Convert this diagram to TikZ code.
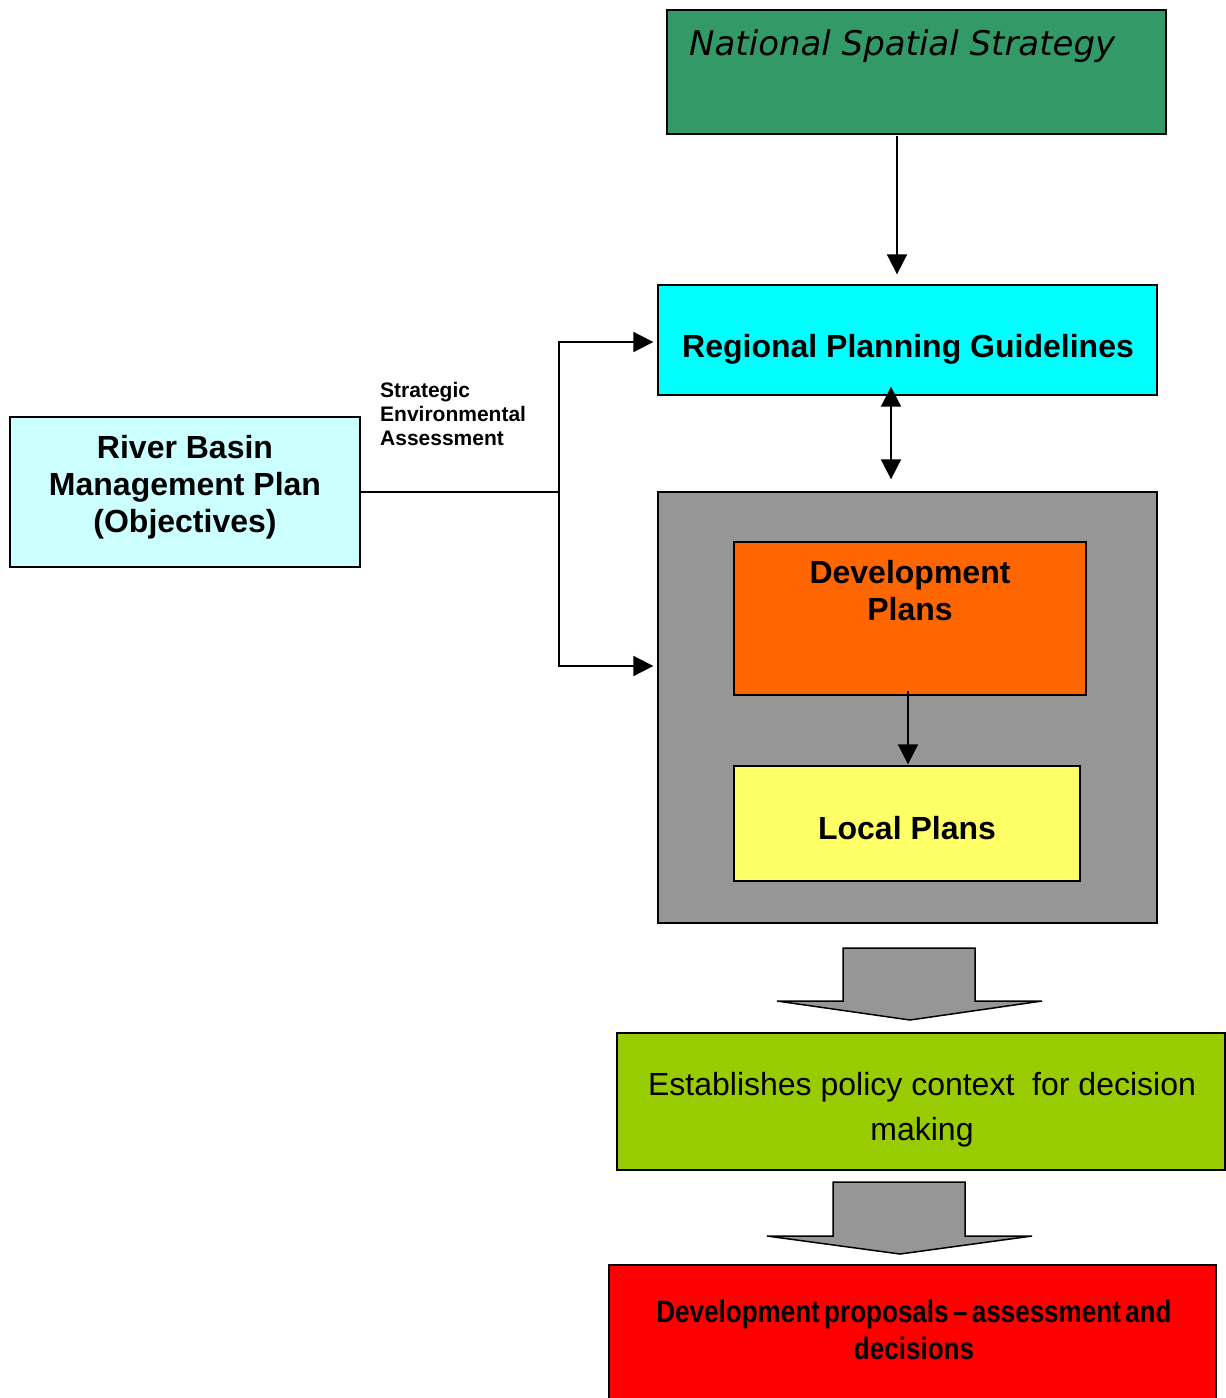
\documentclass[tikz,border=0pt]{standalone}
\usepackage{fontspec}
\setmainfont{Liberation Sans}
\newfontfamily\verd{DejaVu Sans}
\newfontfamily\narrowfont[FakeStretch=0.84,WordSpace=0.6]{Liberation Sans}
\usetikzlibrary{arrows.meta}
\definecolor{nssc}{HTML}{339966}
\definecolor{rpgc}{HTML}{00FFFF}
\definecolor{grayc}{HTML}{969696}
\definecolor{dpc}{HTML}{FF6600}
\definecolor{lpc}{HTML}{FFFF66}
\definecolor{rbc}{HTML}{CCFFFF}
\definecolor{greenc}{HTML}{99CC00}
\definecolor{redc}{HTML}{FF0000}
\tikzset{
  box/.style={draw=black, line width=1.3pt, inner sep=0pt, rectangle},
  conn/.style={draw=black, line width=1.8pt},
  arr/.style={conn, -{Triangle[length=20pt,width=20pt]}},
  darr/.style={conn, {Triangle[length=20pt,width=20pt]}-{Triangle[length=20pt,width=20pt]}},
  big/.style={font=\bfseries\fontsize{32}{37}\selectfont, align=center, inner sep=0pt},
  blockarrow/.style={draw=black, line width=1.5pt, fill=grayc, line join=miter},
}
\begin{document}
\begin{tikzpicture}[x=1pt,y=-1pt]
\useasboundingbox (0,0) rectangle (1226,1398);
% boxes
\node[box, fill=nssc, minimum width=499pt, minimum height=124pt] (nss) at (916.5,72) {};
\node[box, fill=rpgc, minimum width=499pt, minimum height=110pt] (rpg) at (907.5,340) {};
\node[box, fill=grayc, minimum width=499pt, minimum height=431pt] (gray) at (907.5,707.5) {};
\node[box, fill=dpc, minimum width=352pt, minimum height=153pt] (dp) at (910,618.5) {};
\node[box, fill=lpc, minimum width=346pt, minimum height=115pt] (lp) at (907,823.5) {};
\node[box, fill=rbc, minimum width=350pt, minimum height=150pt] (rb) at (185,492) {};
\node[box, fill=greenc, minimum width=608pt, minimum height=137pt] (grn) at (921,1101.5) {};
\node[box, fill=redc, minimum width=607pt, minimum height=140pt] (red) at (912.5,1335) {};
% texts
\node[anchor=base west, inner sep=0pt, font=\verd\itshape\fontsize{34}{38}\selectfont] (nsst) at (689,55) {National Spatial Strategy};
\node[big] (rpgt) at (908,349) {Regional Planning Guidelines};
\node[big] (dpt) at (910,591) {Development\\Plans};
\node[big] (lpt) at (907,828) {Local Plans};
\node[big] (rbt) at (185,487) {River Basin\\Management Plan\\(Objectives)};
\node[anchor=west, align=left, inner sep=0pt, font=\bfseries\fontsize{21}{24}\selectfont] (sea) at (380,414) {Strategic\\Environmental\\Assessment};
\node[align=center, inner sep=0pt, font=\fontsize{32}{45}\selectfont] (grt) at (922,1110) {Establishes policy context\ \ for decision\\making};
\node[align=center, inner sep=0pt, font=\narrowfont\bfseries\fontsize{31}{37}\selectfont] (redt) at (914,1330) {Development proposals – assessment and\\decisions};
% connectors
\coordinate (x897) at (897,0);
\coordinate (x891) at (891,0);
\coordinate (x908) at (908,0);
\coordinate (j) at (559,492);
\coordinate (y342) at (0,342);
\coordinate (y666) at (0,666);
\draw[arr, shorten >=10pt, shorten <=1pt] (nss.south -| x897) -- (rpg.north -| x897);
\draw[darr, shorten <=-9pt, shorten >=12pt] (rpg.south -| x891) -- (gray.north -| x891);
\draw[arr, shorten <=-5pt, shorten >=1pt] (dp.south -| x908) -- (lp.north -| x908);
\draw[conn] (rb.east) -- (j);
\draw[arr, shorten >=4pt] (j) |- (rpg.west |- y342);
\draw[arr, shorten >=4pt] (j) |- (gray.west |- y666);
% block arrows
\draw[blockarrow] (843,948) -- (975,948) -- (975,1001) -- (1042,1001) -- (910,1020) -- (777,1001) -- (843,1001) -- cycle;
\draw[blockarrow] (833,1182) -- (965,1182) -- (965,1236) -- (1032,1236) -- (900,1254) -- (767,1236) -- (833,1236) -- cycle;
\end{tikzpicture}
\end{document}
